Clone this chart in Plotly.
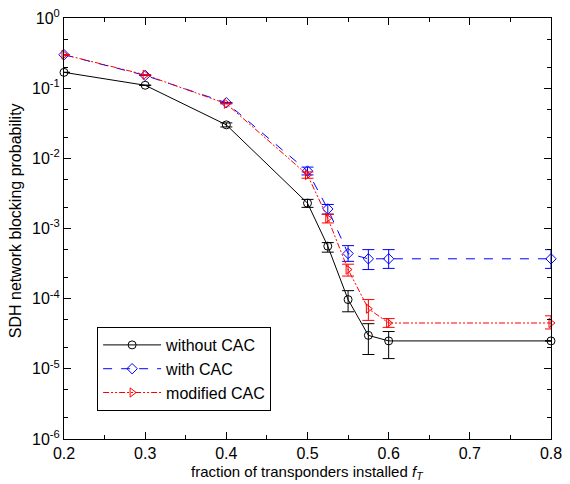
import plotly.graph_objects as go

x = [0.2, 0.3, 0.4, 0.5, 0.525, 0.55, 0.575, 0.6, 0.8]

without_cac = [0.168, 0.11, 0.030, 0.0023, 5.6e-4, 9.7e-5, 3.0e-5, 2.5e-5, 2.5e-5]
without_hi = [0.168, 0.11, 0.032, 0.0026, 6.3e-4, 1.3e-4, 4.4e-5, 3.4e-5, 2.5e-5]
without_lo = [0.168, 0.11, 0.028, 0.0020, 4.6e-4, 6.5e-5, 1.6e-5, 1.4e-5, 2.5e-5]

with_cac = [0.30, 0.152, 0.062, 0.0066, 0.0019, 4.4e-4, 3.7e-4, 3.7e-4, 3.7e-4]
with_hi = [0.30, 0.152, 0.062, 0.0075, 0.0022, 5.7e-4, 5.0e-4, 5.0e-4, 5.0e-4]
with_lo = [0.30, 0.152, 0.062, 0.0058, 0.0016, 3.4e-4, 2.6e-4, 2.7e-4, 2.7e-4]

mod_cac = [0.30, 0.155, 0.060, 0.0058, 0.0014, 2.6e-4, 7.2e-5, 4.5e-5, 4.5e-5]
mod_hi = [0.30, 0.155, 0.060, 0.0064, 0.0016, 3.1e-4, 9.7e-5, 5.2e-5, 5.7e-5]
mod_lo = [0.30, 0.155, 0.060, 0.0052, 0.0012, 2.1e-4, 4.9e-5, 3.9e-5, 3.7e-5]

y_tickvals = [1, 0.1, 0.01, 1e-3, 1e-4, 1e-5, 1e-6]
y_ticktext = ["10<sup>0</sup>", "10<sup>-1</sup>", "10<sup>-2</sup>", "10<sup>-3</sup>",
              "10<sup>-4</sup>", "10<sup>-5</sup>", "10<sup>-6</sup>"]
x_tickvals = [0.2, 0.3, 0.4, 0.5, 0.6, 0.7, 0.8]
x_title = "fraction of transponders installed <i>f<sub>T</sub></i>"
y_title = "SDH network blocking probability"


def err(v, hi, lo):
    return dict(type="data", symmetric=False,
                array=[h - a for h, a in zip(hi, v)],
                arrayminus=[a - l for a, l in zip(v, lo)],
                thickness=1, width=6)


series = [
    ("without CAC", without_cac, without_hi, without_lo, "black", "solid", "circle-open"),
    ("with CAC", with_cac, with_hi, with_lo, "blue", "dash", "diamond-open"),
    ("modified CAC", mod_cac, mod_hi, mod_lo, "red", "6px,2px,2px,2px,2px,2px", "triangle-right-open"),
]

fig = go.Figure()
for name, v, hi, lo, col, dash, sym in series:
    e = err(v, hi, lo)
    e["color"] = col
    fig.add_trace(go.Scatter(
        x=x, y=v, name=name, mode="lines+markers",
        line=dict(color=col, width=1, dash=dash),
        marker=dict(symbol=sym, size=8, color=col, line=dict(color=col, width=1)),
        error_y=e, cliponaxis=False,
    ))

font = "Liberation Sans, Arial, sans-serif"
fig.update_layout(
    width=562, height=476,
    margin=dict(l=56, r=19, t=10, b=45),
    paper_bgcolor="white", plot_bgcolor="white",
    font=dict(family=font, size=16, color="black"),
    showlegend=True,
    legend=dict(x=0.068, y=0.0665, xanchor="left", yanchor="bottom",
                bgcolor="white", bordercolor="black", borderwidth=1,
                font=dict(size=16), tracegroupgap=0, itemwidth=58),
    xaxis=dict(range=[0.2, 0.8], tickvals=x_tickvals, ticktext=[str(v) for v in x_tickvals],
               ticks="inside", ticklen=7, tickcolor="black", showgrid=False,
               showline=True, linecolor="black", linewidth=1, mirror="ticks",
               zeroline=False, automargin=False, ticklabeloverflow="allow",
               minor=dict(ticks="inside", ticklen=4, dtick=0.05, tickcolor="black", showgrid=False),
               tickfont=dict(size=16)),
    yaxis=dict(type="log", range=[-6, 0], tickvals=y_tickvals, ticktext=y_ticktext,
               ticks="inside", ticklen=7, tickcolor="black", showgrid=False,
               showline=True, linecolor="black", linewidth=1, mirror="ticks",
               zeroline=False, automargin=False, ticklabeloverflow="allow",
               minor=dict(ticks="inside", ticklen=4, tickcolor="black", showgrid=False),
               tickfont=dict(size=16)),
    annotations=[
        dict(text=x_title, xref="paper", yref="paper", x=0.5, y=-0.08,
             xanchor="center", yanchor="middle", showarrow=False, font=dict(size=15)),
        dict(text=y_title, xref="paper", yref="paper", x=-0.098, y=0.518,
             xanchor="center", yanchor="middle", textangle=-90, showarrow=False,
             font=dict(size=16)),
    ],
)

fig.write_html("out.html")
